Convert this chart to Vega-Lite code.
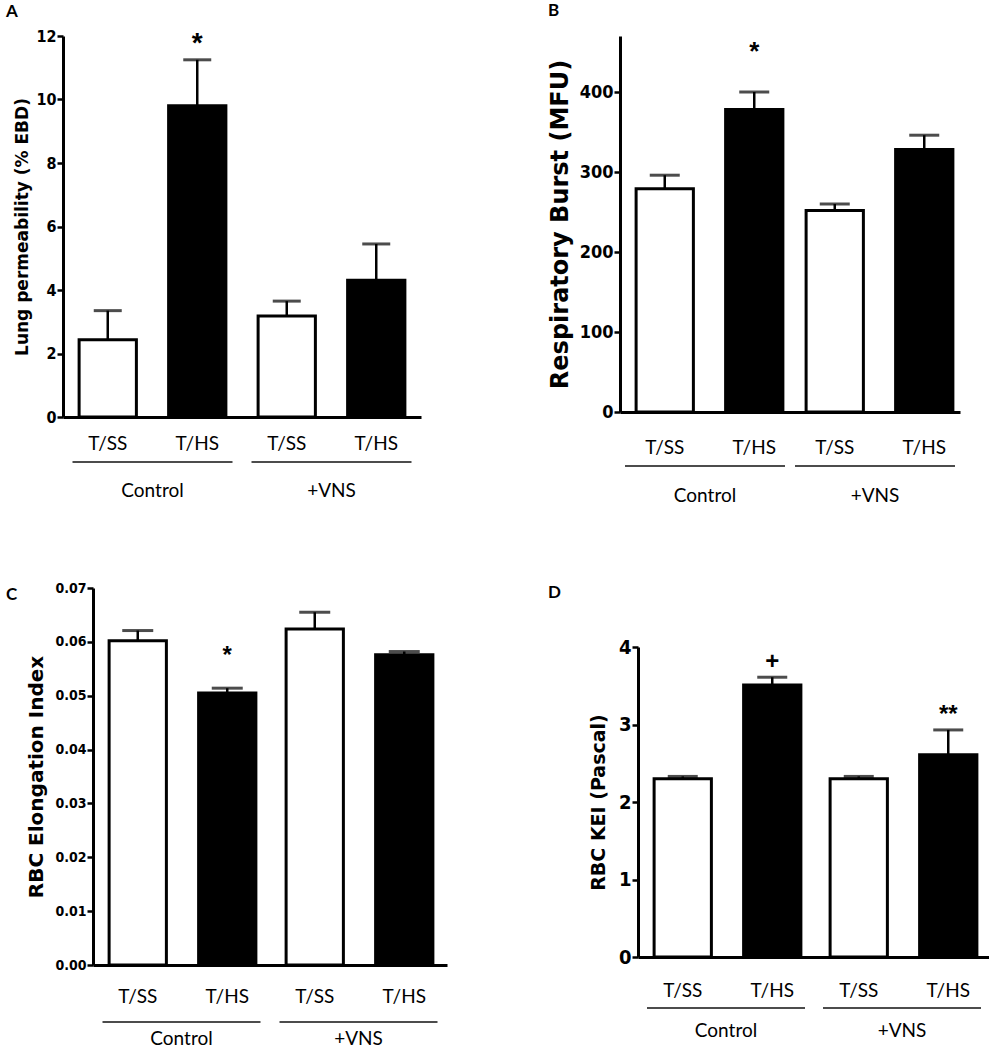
{
  "$schema": "https://vega.github.io/schema/vega-lite/v6.json",
  "background": "white",
  "padding": {"left": 5, "top": 2, "right": 0, "bottom": 0},
  "datasets": {
    "lung": [
      {"group": "Control", "treatment": "T/SS", "mean": 2.43, "upper": 3.35, "sig": ""},
      {"group": "Control", "treatment": "T/HS", "mean": 9.8, "upper": 11.25, "sig": "*"},
      {"group": "+VNS", "treatment": "T/SS", "mean": 3.18, "upper": 3.65, "sig": ""},
      {"group": "+VNS", "treatment": "T/HS", "mean": 4.31, "upper": 5.45, "sig": ""}
    ],
    "burst": [
      {"group": "Control", "treatment": "T/SS", "mean": 279, "upper": 296, "sig": ""},
      {"group": "Control", "treatment": "T/HS", "mean": 378, "upper": 400, "sig": "*"},
      {"group": "+VNS", "treatment": "T/SS", "mean": 252, "upper": 260, "sig": ""},
      {"group": "+VNS", "treatment": "T/HS", "mean": 328, "upper": 346, "sig": ""}
    ],
    "elong": [
      {"group": "Control", "treatment": "T/SS", "mean": 0.0602, "upper": 0.0621, "sig": ""},
      {"group": "Control", "treatment": "T/HS", "mean": 0.0505, "upper": 0.0514, "sig": "*"},
      {"group": "+VNS", "treatment": "T/SS", "mean": 0.0624, "upper": 0.0655, "sig": ""},
      {"group": "+VNS", "treatment": "T/HS", "mean": 0.0576, "upper": 0.0582, "sig": ""}
    ],
    "kei": [
      {"group": "Control", "treatment": "T/SS", "mean": 2.3, "upper": 2.33, "sig": ""},
      {"group": "Control", "treatment": "T/HS", "mean": 3.51, "upper": 3.61, "sig": "+"},
      {"group": "+VNS", "treatment": "T/SS", "mean": 2.3, "upper": 2.33, "sig": ""},
      {"group": "+VNS", "treatment": "T/HS", "mean": 2.61, "upper": 2.93, "sig": "**"}
    ],
    "empty": []
  },
  "hconcat": [
    {
      "concat": [
        {"width": 1, "height": 1, "data": {"name": "empty"}, "mark": "point", "encoding": {}},
        {
          "title": {"text": "A", "anchor": "start", "frame": "group", "dx": -57, "offset": 7},
          "width": 358, "height": 381,
          "data": {"name": "lung"},
          "encoding": {
            "x": {"field": "group", "type": "nominal", "sort": ["Control", "+VNS"], "scale": {"paddingInner": 0, "paddingOuter": 0},
                  "axis": {"title": null, "labelPadding": 64, "labelAngle": 0}}
          },
          "layer": [
            {"mark": {"type": "bar", "stroke": "black", "strokeWidth": 3},
             "encoding": {
               "xOffset": {"field": "treatment", "sort": ["T/SS", "T/HS"], "scale": {"paddingInner": 0.36, "paddingOuter": 0.18}},
               "y": {"field": "mean", "type": "quantitative", "scale": {"domain": [0, 12], "nice": false},
                     "axis": {"title": "Lung permeability (%  EBD)", "values": [0,1,2,3,4,5,6,7,8,9,10,11,12], "format": "d", "labelFontSize": 16, "titleFontSize": 17, "titlePadding": 4}},
               "color": {"field": "treatment", "type": "nominal", "scale": {"domain": ["T/SS", "T/HS"], "range": ["white", "black"]}, "legend": null}
             }},
            {"mark": {"type": "rule", "strokeWidth": 2.5, "color": "black"},
             "encoding": {"xOffset": {"field": "treatment", "sort": ["T/SS", "T/HS"]}, "y": {"field": "mean", "type": "quantitative"}, "y2": {"field": "upper"}}},
            {"mark": {"type": "tick", "size": 28, "thickness": 3, "color": "black"},
             "encoding": {"xOffset": {"field": "treatment", "sort": ["T/SS", "T/HS"]}, "y": {"field": "upper", "type": "quantitative"}}},
            {"mark": {"type": "text", "dy": -8, "fontSize": 28, "fontWeight": "bold", "font": "Liberation Sans", "baseline": "alphabetic"},
             "encoding": {"xOffset": {"field": "treatment", "sort": ["T/SS", "T/HS"]}, "y": {"field": "upper", "type": "quantitative"}, "text": {"field": "sig"}}},
            {"mark": {"type": "text", "dy": 27, "fontSize": 19, "font": "Lato", "baseline": "middle"},
             "encoding": {"xOffset": {"field": "treatment", "sort": ["T/SS", "T/HS"]}, "y": {"datum": 0}, "text": {"field": "treatment"}}},
            {"transform": [{"filter": "datum.treatment === 'T/SS'"}],
             "mark": {"type": "tick", "yOffset": 45, "size": 160, "thickness": 2, "color": "black"},
             "encoding": {"y": {"datum": 0}}}
          ]
        },
        {"width": 1, "height": 1, "data": {"name": "empty"}, "mark": "point", "encoding": {}},
        {
          "title": {"text": "C", "anchor": "start", "frame": "group", "dx": -87, "offset": -36},
          "width": 354, "height": 377,
          "data": {"name": "elong"},
          "encoding": {
            "x": {"field": "group", "type": "nominal", "sort": ["Control", "+VNS"], "scale": {"paddingInner": 0, "paddingOuter": 0},
                  "axis": {"title": null, "labelPadding": 64, "labelAngle": 0}}
          },
          "layer": [
            {"mark": {"type": "bar", "stroke": "black", "strokeWidth": 3},
             "encoding": {
               "xOffset": {"field": "treatment", "sort": ["T/SS", "T/HS"], "scale": {"paddingInner": 0.35, "paddingOuter": 0.175}},
               "y": {"field": "mean", "type": "quantitative", "scale": {"domain": [0, 0.07], "nice": false},
                     "axis": {"title": "RBC Elongation  Index", "values": [0,0.01,0.02,0.03,0.04,0.05,0.06,0.07], "format": ".2f", "labelFontSize": 14, "titleFontSize": 20, "titlePadding": 8}},
               "color": {"field": "treatment", "type": "nominal", "scale": {"domain": ["T/SS", "T/HS"], "range": ["white", "black"]}, "legend": null}
             }},
            {"mark": {"type": "rule", "strokeWidth": 2.5, "color": "black"},
             "encoding": {"xOffset": {"field": "treatment", "sort": ["T/SS", "T/HS"]}, "y": {"field": "mean", "type": "quantitative"}, "y2": {"field": "upper"}}},
            {"mark": {"type": "tick", "size": 31, "thickness": 3, "color": "black"},
             "encoding": {"xOffset": {"field": "treatment", "sort": ["T/SS", "T/HS"]}, "y": {"field": "upper", "type": "quantitative"}}},
            {"mark": {"type": "text", "dy": -25, "fontSize": 24, "fontWeight": "bold", "font": "Liberation Sans", "baseline": "alphabetic"},
             "encoding": {"xOffset": {"field": "treatment", "sort": ["T/SS", "T/HS"]}, "y": {"field": "upper", "type": "quantitative"}, "text": {"field": "sig"}}},
            {"mark": {"type": "text", "dy": 32, "fontSize": 19, "font": "Lato", "baseline": "middle"},
             "encoding": {"xOffset": {"field": "treatment", "sort": ["T/SS", "T/HS"]}, "y": {"datum": 0}, "text": {"field": "treatment"}}},
            {"transform": [{"filter": "datum.treatment === 'T/SS'"}],
             "mark": {"type": "tick", "yOffset": 57, "size": 158, "thickness": 2, "color": "black"},
             "encoding": {"y": {"datum": 0}}}
          ]
        }
      ],
      "columns": 2, "align": "none", "spacing": {"row": 68, "column": 0}
    },
    {
      "concat": [
        {"width": 1, "height": 1, "data": {"name": "empty"}, "mark": "point", "encoding": {}},
        {
          "title": {"text": "B", "anchor": "start", "frame": "group", "dx": -72, "offset": 16},
          "width": 340, "height": 376,
          "data": {"name": "burst"},
          "encoding": {
            "x": {"field": "group", "type": "nominal", "sort": ["Control", "+VNS"], "scale": {"paddingInner": 0, "paddingOuter": 0},
                  "axis": {"title": null, "labelPadding": 74, "labelAngle": 0}}
          },
          "layer": [
            {"mark": {"type": "bar", "stroke": "black", "strokeWidth": 3},
             "encoding": {
               "xOffset": {"field": "treatment", "sort": ["T/SS", "T/HS"], "scale": {"paddingInner": 0.33, "paddingOuter": 0.165}},
               "y": {"field": "mean", "type": "quantitative", "scale": {"domain": [0, 470], "nice": false},
                     "axis": {"title": "Respiratory Burst (MFU)", "values": [0,100,200,300,400], "labelFontSize": 18, "titleFontSize": 24, "titlePadding": 7}},
               "color": {"field": "treatment", "type": "nominal", "scale": {"domain": ["T/SS", "T/HS"], "range": ["white", "black"]}, "legend": null}
             }},
            {"mark": {"type": "rule", "strokeWidth": 2.5, "color": "black"},
             "encoding": {"xOffset": {"field": "treatment", "sort": ["T/SS", "T/HS"]}, "y": {"field": "mean", "type": "quantitative"}, "y2": {"field": "upper"}}},
            {"mark": {"type": "tick", "size": 30, "thickness": 3, "color": "black"},
             "encoding": {"xOffset": {"field": "treatment", "sort": ["T/SS", "T/HS"]}, "y": {"field": "upper", "type": "quantitative"}}},
            {"mark": {"type": "text", "dy": -32, "fontSize": 26, "fontWeight": "bold", "font": "Liberation Sans", "baseline": "alphabetic"},
             "encoding": {"xOffset": {"field": "treatment", "sort": ["T/SS", "T/HS"]}, "y": {"field": "upper", "type": "quantitative"}, "text": {"field": "sig"}}},
            {"mark": {"type": "text", "dy": 36, "fontSize": 19, "font": "Lato", "baseline": "middle"},
             "encoding": {"xOffset": {"field": "treatment", "sort": ["T/SS", "T/HS"]}, "y": {"datum": 0}, "text": {"field": "treatment"}}},
            {"transform": [{"filter": "datum.treatment === 'T/SS'"}],
             "mark": {"type": "tick", "yOffset": 54, "size": 160, "thickness": 2, "color": "black"},
             "encoding": {"y": {"datum": 0}}}
          ]
        },
        {"width": 1, "height": 1, "data": {"name": "empty"}, "mark": "point", "encoding": {}},
        {
          "title": {"text": "D", "anchor": "start", "frame": "group", "dx": -90, "offset": 35},
          "width": 352, "height": 310,
          "data": {"name": "kei"},
          "encoding": {
            "x": {"field": "group", "type": "nominal", "sort": ["Control", "+VNS"], "scale": {"paddingInner": 0, "paddingOuter": 0},
                  "axis": {"title": null, "labelPadding": 64, "labelAngle": 0}}
          },
          "layer": [
            {"mark": {"type": "bar", "stroke": "black", "strokeWidth": 3},
             "encoding": {
               "xOffset": {"field": "treatment", "sort": ["T/SS", "T/HS"], "scale": {"paddingInner": 0.32, "paddingOuter": 0.16}},
               "y": {"field": "mean", "type": "quantitative", "scale": {"domain": [0, 4], "nice": false},
                     "axis": {"title": "RBC KEI (Pascal)", "values": [0,1,2,3,4], "format": "d", "labelFontSize": 20, "titleFontSize": 19, "titlePadding": 10}},
               "color": {"field": "treatment", "type": "nominal", "scale": {"domain": ["T/SS", "T/HS"], "range": ["white", "black"]}, "legend": null}
             }},
            {"mark": {"type": "rule", "strokeWidth": 2.5, "color": "black"},
             "encoding": {"xOffset": {"field": "treatment", "sort": ["T/SS", "T/HS"]}, "y": {"field": "mean", "type": "quantitative"}, "y2": {"field": "upper"}}},
            {"mark": {"type": "tick", "size": 30, "thickness": 3, "color": "black"},
             "encoding": {"xOffset": {"field": "treatment", "sort": ["T/SS", "T/HS"]}, "y": {"field": "upper", "type": "quantitative"}}},
            {"mark": {"type": "text", "dy": -8, "fontSize": 24, "fontWeight": "bold", "font": "Liberation Sans", "baseline": "alphabetic"},
             "encoding": {"xOffset": {"field": "treatment", "sort": ["T/SS", "T/HS"]}, "y": {"field": "upper", "type": "quantitative"}, "text": {"field": "sig"}}},
            {"mark": {"type": "text", "dy": 34, "fontSize": 19, "font": "Lato", "baseline": "middle"},
             "encoding": {"xOffset": {"field": "treatment", "sort": ["T/SS", "T/HS"]}, "y": {"datum": 0}, "text": {"field": "treatment"}}},
            {"transform": [{"filter": "datum.treatment === 'T/SS'"}],
             "mark": {"type": "tick", "yOffset": 51, "size": 158, "thickness": 2, "color": "black"},
             "encoding": {"y": {"datum": 0}}}
          ]
        }
      ],
      "columns": 2, "align": "none", "spacing": {"row": 79, "column": 0}
    }
  ],
  "spacing": 100,
  "config": {
    "view": {"stroke": null},
    "title": {"font": "Lato", "fontSize": 17, "fontWeight": "bold", "color": "black"},
    "axis": {
      "domainColor": "black", "domainWidth": 3,
      "tickColor": "black", "tickWidth": 2.5, "tickSize": 6,
      "labelColor": "black", "labelFont": "Liberation Sans Narrow, DejaVu Sans Condensed, Liberation Sans, sans-serif", "labelFontWeight": "bold", "labelPadding": 1, "labelOverlap": false,
      "titleColor": "black", "titleFont": "DejaVu Sans", "titleFontWeight": "bold",
      "grid": false
    },
    "axisX": {"ticks": false, "tickSize": 0, "labelFont": "Lato", "labelFontWeight": "normal", "labelFontSize": 19}
  }
}
